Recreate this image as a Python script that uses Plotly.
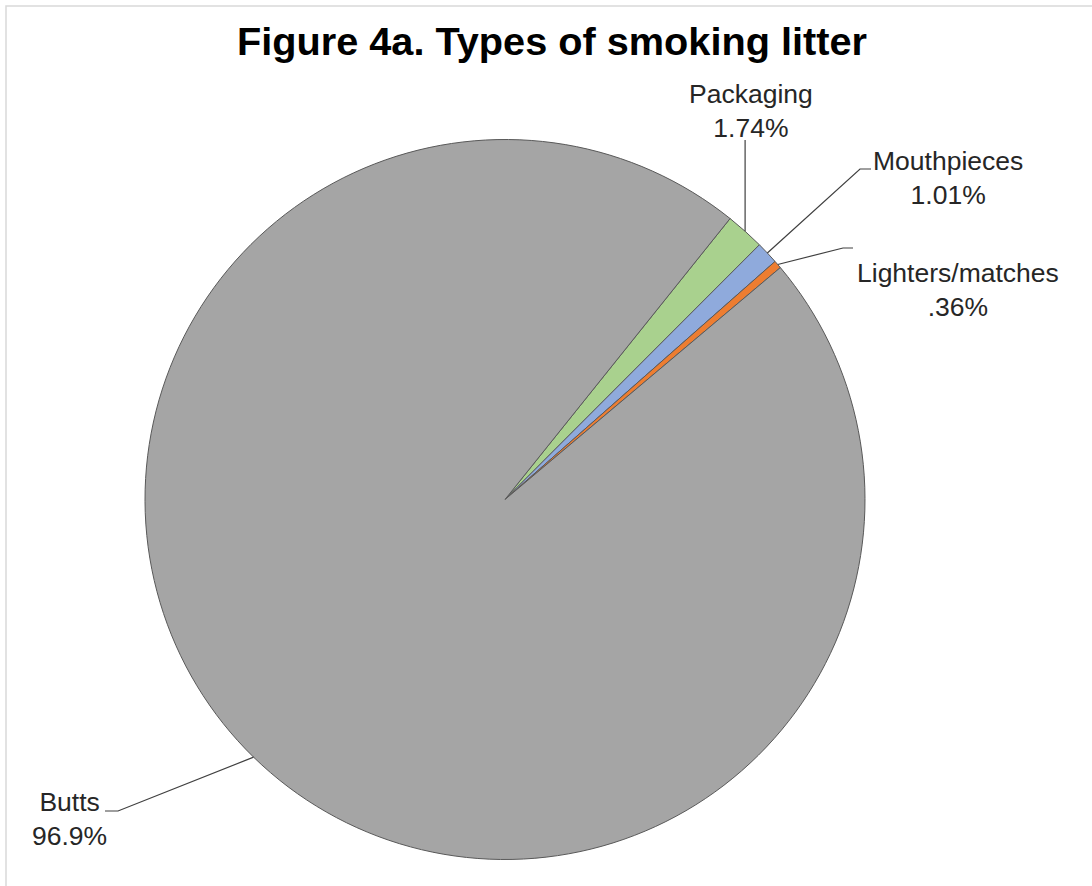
import math
import plotly.graph_objects as go

# ---- data ----
categories = ["Packaging", "Mouthpieces", "Lighters/matches", "Butts"]
shares = [1.74, 1.01, 0.36, 96.9]
pct_labels = ["1.74%", "1.01%", ".36%", "96.9%"]
colors = ["#A9D18E", "#8FAADC", "#ED7D31", "#A5A5A5"]
title_text = "Figure 4a. Types of smoking litter"

# ---- layout (pixels) ----
W, H = 1092, 886
CX, CY, R = 505, 499.5, 360
ROT = 38.7
# label block centres and leader-line elbow / end points (pixels)
label_pos = {
    "Packaging": (751, 111),
    "Mouthpieces": (948, 178),
    "Lighters/matches": (958, 290),
    "Butts": (69, 819),
}
leader_pts = {
    "Packaging": [(None, 140)],
    "Mouthpieces": [(860, 169), (871, 169)],
    "Lighters/matches": [(843, 248), (853, 248)],
    "Butts": [(118, 811), (105, 811)],
}


def px(x):
    return x / W


def py(y):
    return 1 - y / H


fig = go.Figure(
    go.Pie(
        labels=categories,
        values=shares,
        sort=False,
        direction="clockwise",
        rotation=ROT,
        marker=dict(colors=colors, line=dict(color="#595959", width=1)),
        textinfo="none",
        hoverinfo="label+percent",
        domain=dict(x=[px(CX - R), px(CX + R)], y=[py(CY + R), py(CY - R)]),
        showlegend=False,
    )
)

total = sum(shares)
cum = ROT
shapes = []
annotations = []
for cat, v, pl in zip(categories, shares, pct_labels):
    span = v / total * 360
    mid = math.radians(cum + span / 2)
    cum += span
    ex = CX + R * math.sin(mid)
    ey = CY - R * math.cos(mid)
    pts = [(ex, ey)]
    for (x, y) in leader_pts[cat]:
        pts.append((ex if x is None else x, y))
    path = "M " + " L ".join(f"{px(x)},{py(y)}" for x, y in pts)
    shapes.append(dict(type="path", xref="paper", yref="paper", path=path,
                       line=dict(color="#404040", width=1.2)))
    lx, ly = label_pos[cat]
    annotations.append(dict(
        text=f"{cat}<br>{pl}", x=px(lx), y=py(ly), xref="paper", yref="paper",
        xanchor="center", yanchor="middle", showarrow=False, align="center",
        font=dict(family="Liberation Sans", size=26.5, color="#262626"),
    ))

# outer chart border (extends past right/bottom edges)
shapes.append(dict(type="rect", xref="paper", yref="paper",
                   x0=px(6), y0=py(6), x1=px(W + 20), y1=py(H + 20),
                   line=dict(color="#D9D9D9", width=1.5), layer="below"))

fig.update_layout(
    width=W, height=H,
    margin=dict(l=0, r=0, t=0, b=0),
    paper_bgcolor="white", plot_bgcolor="white",
    title=dict(text=f"<b>{title_text}</b>", x=px(552), xanchor="center",
               y=py(41), yanchor="middle", xref="paper", yref="paper",
               font=dict(family="Liberation Sans", size=39.7, color="#000000")),
    shapes=shapes,
    annotations=annotations,
)

fig.write_html("out.html")
